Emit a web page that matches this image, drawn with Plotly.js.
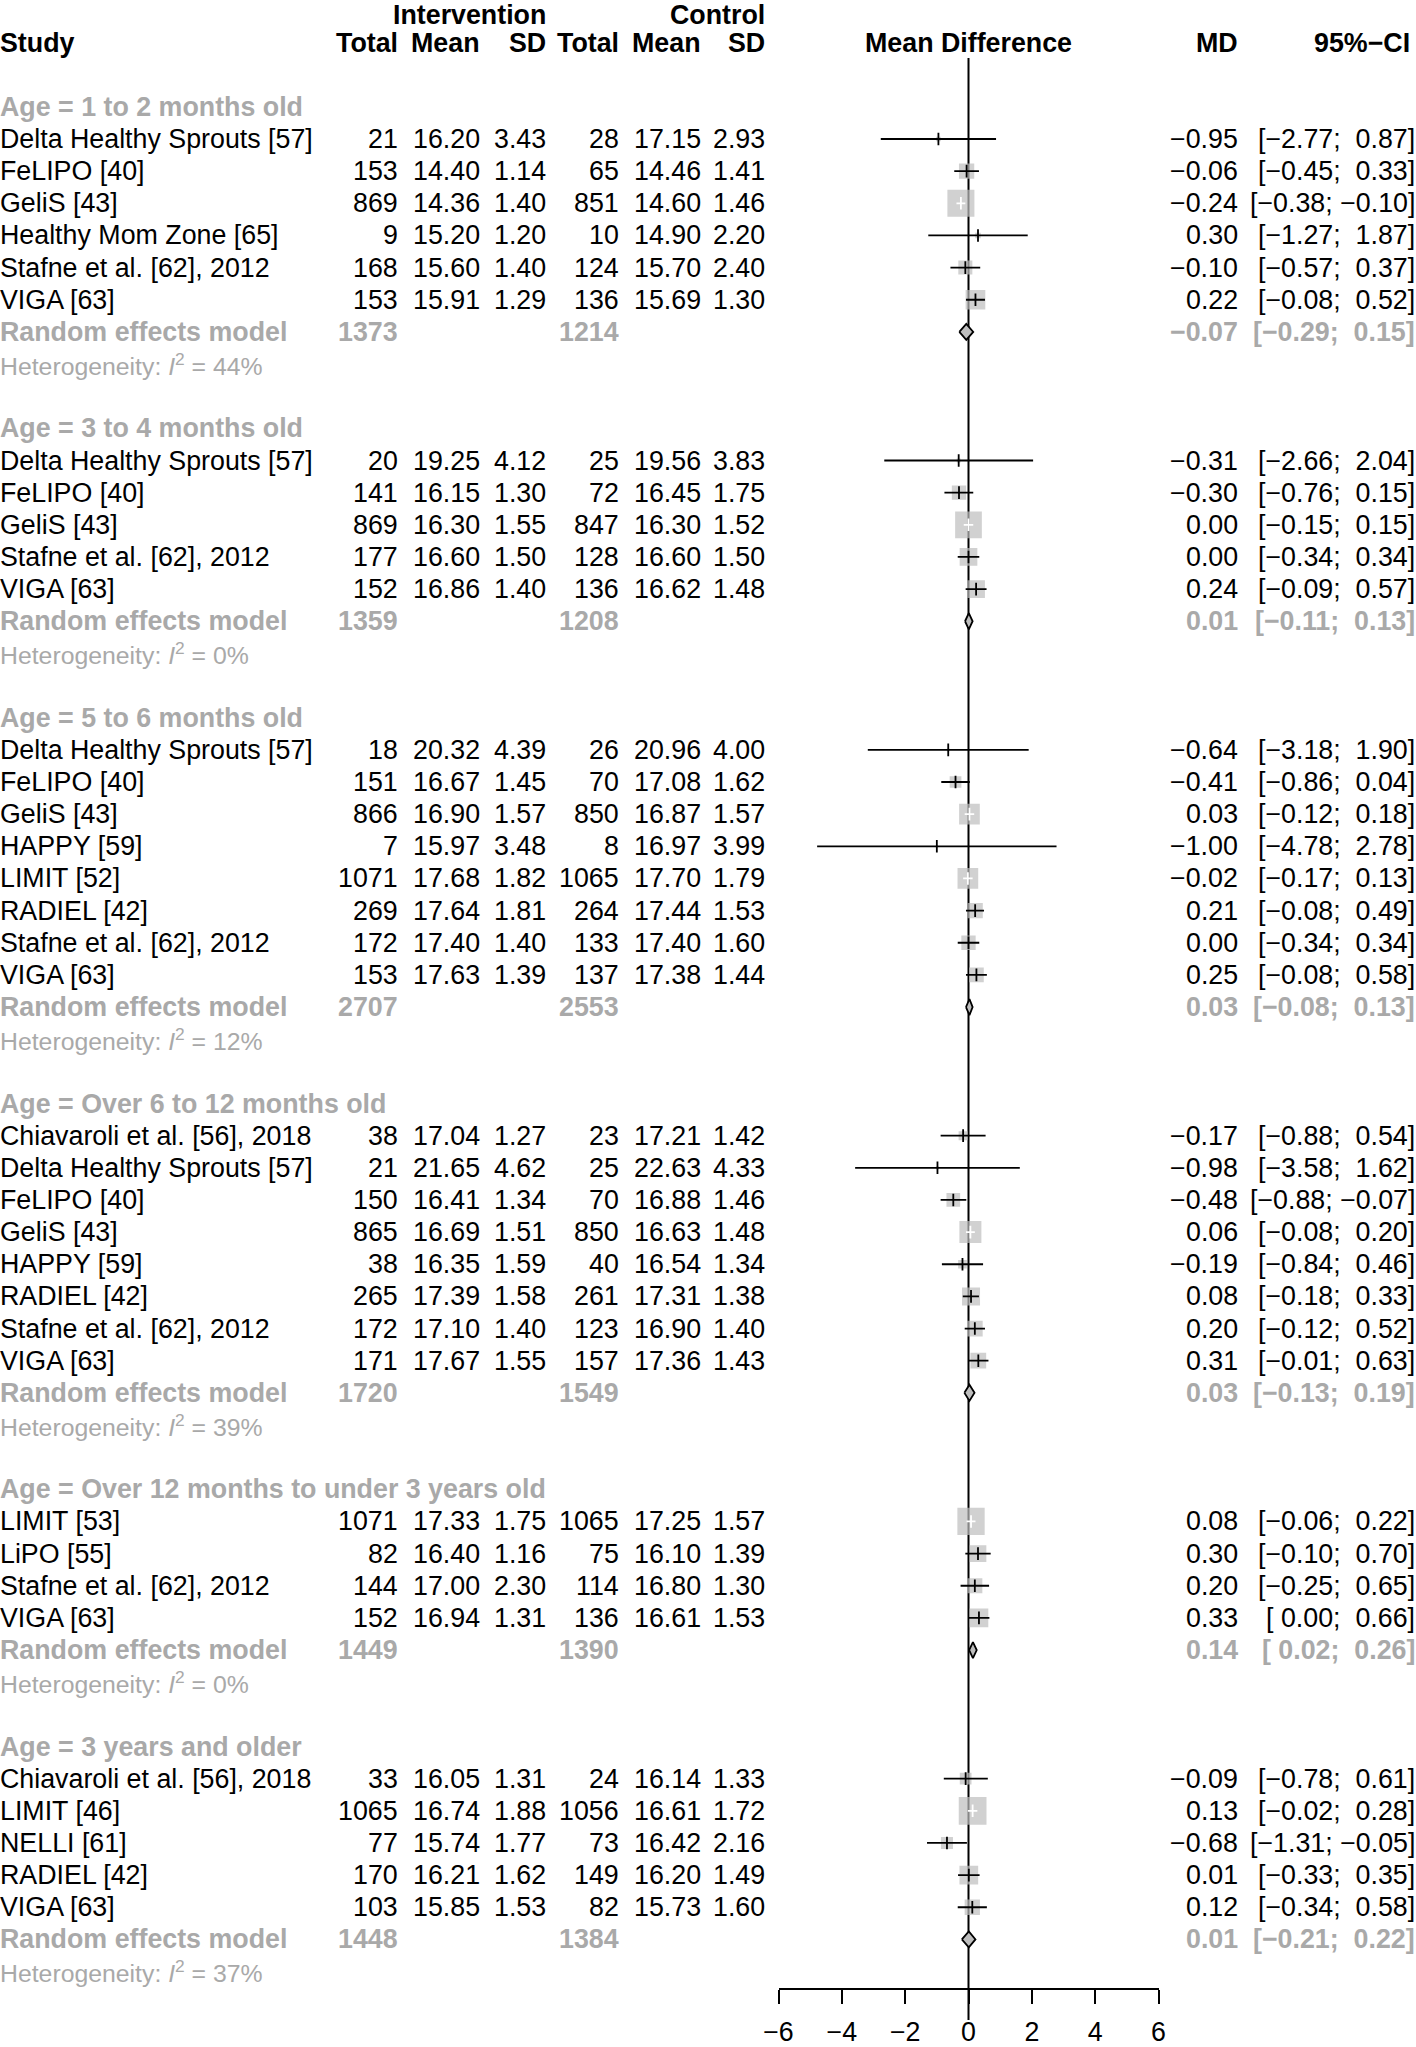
<!DOCTYPE html>
<html>
<head>
<meta charset="utf-8">
<script src="https://cdn.plot.ly/plotly-3.0.1.min.js"></script>
<style>
html,body{margin:0;padding:0;background:#fff;}
#chart{width:1416px;height:2047px;}
</style>
</head>
<body>
<div id="chart"></div>
<script>
// ---------------- DATA ----------------
const groupLabels = [
  "Age = 1 to 2 months old",
  "Age = 3 to 4 months old",
  "Age = 5 to 6 months old",
  "Age = Over 6 to 12 months old",
  "Age = Over 12 months to under 3 years old",
  "Age = 3 years and older"
];
const groupTotalE = [1373, 1359, 2707, 1720, 1449, 1448];
const groupTotalC = [1214, 1208, 2553, 1549, 1390, 1384];
const groupMD = [-0.07, 0.01, 0.03, 0.03, 0.14, 0.01];
const groupLo = [-0.29, -0.11, -0.08, -0.13, 0.02, -0.21];
const groupHi = [0.15, 0.13, 0.13, 0.19, 0.26, 0.22];
const groupI2 = [44, 0, 12, 39, 0, 37];

const studyNames = [
  "Delta Healthy Sprouts [57]", "FeLIPO [40]", "GeliS [43]", "Healthy Mom Zone [65]", "Stafne et al. [62], 2012", "VIGA [63]",
  "Delta Healthy Sprouts [57]", "FeLIPO [40]", "GeliS [43]", "Stafne et al. [62], 2012", "VIGA [63]",
  "Delta Healthy Sprouts [57]", "FeLIPO [40]", "GeliS [43]", "HAPPY [59]", "LIMIT [52]", "RADIEL [42]", "Stafne et al. [62], 2012", "VIGA [63]",
  "Chiavaroli et al. [56], 2018", "Delta Healthy Sprouts [57]", "FeLIPO [40]", "GeliS [43]", "HAPPY [59]", "RADIEL [42]", "Stafne et al. [62], 2012", "VIGA [63]",
  "LIMIT [53]", "LiPO [55]", "Stafne et al. [62], 2012", "VIGA [63]",
  "Chiavaroli et al. [56], 2018", "LIMIT [46]", "NELLI [61]", "RADIEL [42]", "VIGA [63]"
];
const studyGroup = [
  0,0,0,0,0,0,
  1,1,1,1,1,
  2,2,2,2,2,2,2,2,
  3,3,3,3,3,3,3,3,
  4,4,4,4,
  5,5,5,5,5
];
const nE = [21,153,869,9,168,153, 20,141,869,177,152, 18,151,866,7,1071,269,172,153, 38,21,150,865,38,265,172,171, 1071,82,144,152, 33,1065,77,170,103];
const meanE = [16.20,14.40,14.36,15.20,15.60,15.91, 19.25,16.15,16.30,16.60,16.86, 20.32,16.67,16.90,15.97,17.68,17.64,17.40,17.63, 17.04,21.65,16.41,16.69,16.35,17.39,17.10,17.67, 17.33,16.40,17.00,16.94, 16.05,16.74,15.74,16.21,15.85];
const sdE = [3.43,1.14,1.40,1.20,1.40,1.29, 4.12,1.30,1.55,1.50,1.40, 4.39,1.45,1.57,3.48,1.82,1.81,1.40,1.39, 1.27,4.62,1.34,1.51,1.59,1.58,1.40,1.55, 1.75,1.16,2.30,1.31, 1.31,1.88,1.77,1.62,1.53];
const nC = [28,65,851,10,124,136, 25,72,847,128,136, 26,70,850,8,1065,264,133,137, 23,25,70,850,40,261,123,157, 1065,75,114,136, 24,1056,73,149,82];
const meanC = [17.15,14.46,14.60,14.90,15.70,15.69, 19.56,16.45,16.30,16.60,16.62, 20.96,17.08,16.87,16.97,17.70,17.44,17.40,17.38, 17.21,22.63,16.88,16.63,16.54,17.31,16.90,17.36, 17.25,16.10,16.80,16.61, 16.14,16.61,16.42,16.20,15.73];
const sdC = [2.93,1.41,1.46,2.20,2.40,1.30, 3.83,1.75,1.52,1.50,1.48, 4.00,1.62,1.57,3.99,1.79,1.53,1.60,1.44, 1.42,4.33,1.46,1.48,1.34,1.38,1.40,1.43, 1.57,1.39,1.30,1.53, 1.33,1.72,2.16,1.49,1.60];
const md = [-0.95,-0.06,-0.24,0.30,-0.10,0.22, -0.31,-0.30,0.00,0.00,0.24, -0.64,-0.41,0.03,-1.00,-0.02,0.21,0.00,0.25, -0.17,-0.98,-0.48,0.06,-0.19,0.08,0.20,0.31, 0.08,0.30,0.20,0.33, -0.09,0.13,-0.68,0.01,0.12];
const ciLo = [-2.77,-0.45,-0.38,-1.27,-0.57,-0.08, -2.66,-0.76,-0.15,-0.34,-0.09, -3.18,-0.86,-0.12,-4.78,-0.17,-0.08,-0.34,-0.08, -0.88,-3.58,-0.88,-0.08,-0.84,-0.18,-0.12,-0.01, -0.06,-0.10,-0.25,0.00, -0.78,-0.02,-1.31,-0.33,-0.34];
const ciHi = [0.87,0.33,-0.10,1.87,0.37,0.52, 2.04,0.15,0.15,0.34,0.57, 1.90,0.04,0.18,2.78,0.13,0.49,0.34,0.58, 0.54,1.62,-0.07,0.20,0.46,0.33,0.52,0.63, 0.22,0.70,0.65,0.66, 0.61,0.28,-0.05,0.35,0.58];
// weights (%, random effects, within subgroup)
const weight = [1.4,14.6,45.6,1.9,12.3,24.2, 1.0,12.8,44.6,19.6,19.6, 0.5,8.6,26.8,0.3,26.8,14.6,12.8,13.5, 5.1,0.6,11.7,30.2,4.7,20.2,15.4,15.4, 46.6,17.4,14.1,21.9, 8.6,48.0,9.0,21.9,14.6];

const xTicks = [-6, -4, -2, 0, 2, 4, 6];

// ---------------- LAYOUT CONSTANTS ----------------
const W = 1416, H = 2047;
const plotBottom = 1988;
const rowTop = 10.4, rowH = 32.15;
const yTop = (0 - rowTop) / rowH, yBot = (plotBottom - rowTop) / rowH;
const axL = 778.5, axR = 1158.5;
const pxPerUnit = (axR - axL) / 12;
const FONT = "Liberation Sans, Arial, Helvetica, sans-serif";
const FS = 26.8;
const FS_HET = 24.8;
const GRAY = "#A9A9A9";
const BOXGRAY = "#BEBEBE";
const colX = {totE: 398, meanE: 480, sdE: 545.5, totC: 618.5, meanC: 700.5, sdC: 764.5, md: 1238, ci: 1415};

const M = "\u2212", NB = "\u00a0";
function fmt(v, d) { return v < 0 ? M + Math.abs(v).toFixed(d) : v.toFixed(d); }
function pad(v) { return v < 0 ? M + Math.abs(v).toFixed(2) : NB + v.toFixed(2); }
function ciStr(lo, hi) { return "[" + pad(lo) + ";" + NB + pad(hi) + "]"; }

// rows
let r = 3;
const studyRow = [], groupRow = [], remRow = [], hetRow = [];
for (let g = 0; g < groupLabels.length; g++) {
  groupRow[g] = r++;
  for (let i = 0; i < studyNames.length; i++) if (studyGroup[i] === g) studyRow[i] = r++;
  remRow[g] = r++;
  hetRow[g] = r++;
  r++;
}

const annotations = [];
function ann(text, xpx, row, anchor, o) {
  o = o || {};
  annotations.push({
    text: text, x: xpx / W, xref: "paper", y: row, yref: "y",
    xanchor: anchor, yanchor: o.yanchor || "middle", showarrow: false, borderpad: 0, borderwidth: 0,
    yshift: o.yshift || 0,
    font: {family: FONT, size: o.size || FS, color: o.color || "#000"}
  });
}
// headers (top line anchored to the top edge of the figure)
ann("<b>Intervention</b>", colX.sdE, yTop, "right", {yanchor: "top"});
ann("<b>Control</b>", colX.sdC, yTop, "right", {yanchor: "top"});
ann("<b>Study</b>", 0, 1, "left");
ann("<b>Total</b>", colX.totE, 1, "right");
ann("<b>Mean</b>", colX.meanE, 1, "right");
ann("<b>SD</b>", colX.sdE, 1, "right");
ann("<b>Total</b>", colX.totC, 1, "right");
ann("<b>Mean</b>", colX.meanC, 1, "right");
ann("<b>SD</b>", colX.sdC, 1, "right");
annotations.push({text: "<b>Mean Difference</b>", x: 0, xref: "x", y: 1, yref: "y", xanchor: "center", yanchor: "middle",
  showarrow: false, borderpad: 0, font: {family: FONT, size: FS, color: "#000"}});
ann("<b>MD</b>", colX.md, 1, "right");
ann("<b>95%" + M + "CI</b>", 1410, 1, "right");

for (let g = 0; g < groupLabels.length; g++) {
  ann("<b>" + groupLabels[g] + "</b>", 0, groupRow[g], "left", {color: GRAY});
  ann("<b>Random effects model</b>", 0, remRow[g], "left", {color: GRAY});
  ann("<b>" + groupTotalE[g] + "</b>", colX.totE, remRow[g], "right", {color: GRAY});
  ann("<b>" + groupTotalC[g] + "</b>", colX.totC, remRow[g], "right", {color: GRAY});
  ann("<b>" + fmt(groupMD[g], 2) + "</b>", colX.md, remRow[g], "right", {color: GRAY});
  ann("<b>" + ciStr(groupLo[g], groupHi[g]) + "</b>", colX.ci, remRow[g], "right", {color: GRAY});
  ann("Heterogeneity: <i>I</i><sup>2</sup> = " + groupI2[g] + "%", 0, hetRow[g], "left", {color: GRAY, size: FS_HET});
}
for (let i = 0; i < studyNames.length; i++) {
  const y = studyRow[i];
  ann(studyNames[i], 0, y, "left");
  ann(String(nE[i]), colX.totE, y, "right");
  ann(meanE[i].toFixed(2), colX.meanE, y, "right");
  ann(sdE[i].toFixed(2), colX.sdE, y, "right");
  ann(String(nC[i]), colX.totC, y, "right");
  ann(meanC[i].toFixed(2), colX.meanC, y, "right");
  ann(sdC[i].toFixed(2), colX.sdC, y, "right");
  ann(fmt(md[i], 2), colX.md, y, "right");
  ann(ciStr(ciLo[i], ciHi[i]), colX.ci, y, "right");
}

// ---------------- TRACES ----------------
const boxSide = weight.map(w => 4 * Math.sqrt(w));
const inside = md.map((v, i) => (ciHi[i] - ciLo[i]) * pxPerUnit < boxSide[i] - 2);

const lineX = {b: [], w: []}, lineY = {b: [], w: []};
const tickX = {b: [], w: []}, tickY = {b: [], w: []};
for (let i = 0; i < md.length; i++) {
  const k = inside[i] ? "w" : "b";
  lineX[k].push(ciLo[i], ciHi[i], null);
  lineY[k].push(studyRow[i], studyRow[i], null);
  tickX[k].push(md[i]);
  tickY[k].push(studyRow[i]);
}
const dX = [], dY = [];
for (let g = 0; g < groupLabels.length; g++) {
  const y = remRow[g];
  dX.push(groupLo[g], groupMD[g], groupHi[g], groupMD[g], groupLo[g], null);
  dY.push(y, y - 0.25, y, y + 0.25, y, null);
}

const traces = [
  {type: "scatter", mode: "markers", x: md, y: studyRow, hoverinfo: "skip",
   marker: {symbol: "square", size: boxSide, color: BOXGRAY, line: {width: 0}}},
  {type: "scatter", mode: "lines", x: lineX.b, y: lineY.b, line: {color: "#000", width: 1.8}, hoverinfo: "skip"},
  {type: "scatter", mode: "lines", x: lineX.w, y: lineY.w, line: {color: "#fff", width: 1.8}, hoverinfo: "skip"},
  {type: "scatter", mode: "markers", x: tickX.b, y: tickY.b, hoverinfo: "skip",
   marker: {symbol: "line-ns", size: 9, line: {color: "#000", width: 1.8}}},
  {type: "scatter", mode: "markers", x: tickX.w, y: tickY.w, hoverinfo: "skip",
   marker: {symbol: "line-ns", size: 9, line: {color: "#fff", width: 1.8}}},
  {type: "scatter", mode: "lines", x: dX, y: dY, fill: "toself", fillcolor: BOXGRAY,
   line: {color: "#000", width: 1.8}, hoverinfo: "skip"}
];

const layout = {
  width: W, height: H,
  margin: {l: 0, r: 0, t: 0, b: H - plotBottom, pad: 0},
  paper_bgcolor: "#fff", plot_bgcolor: "#fff",
  showlegend: false,
  xaxis: {
    domain: [axL / W, axR / W], range: [-6, 6], tickvals: xTicks,
    showline: true, linecolor: "#000", linewidth: 2,
    ticks: "outside", ticklen: 14, tickwidth: 2, tickcolor: "#000",
    showgrid: false, zeroline: false, fixedrange: true,
    tickfont: {family: FONT, size: FS, color: "#000"}, ticklabelstandoff: 5
  },
  yaxis: {range: [yBot, yTop], visible: false, showgrid: false, zeroline: false, fixedrange: true},
  shapes: [{
    type: "line", xref: "x", yref: "paper", x0: 0, x1: 0,
    y0: (plotBottom - 2020) / plotBottom, y1: (plotBottom - 58) / plotBottom,
    line: {color: "#000", width: 2}, layer: "below"
  }],
  annotations: annotations
};

Plotly.newPlot("chart", traces, layout, {displayModeBar: false, staticPlot: true});
</script>
</body>
</html>
